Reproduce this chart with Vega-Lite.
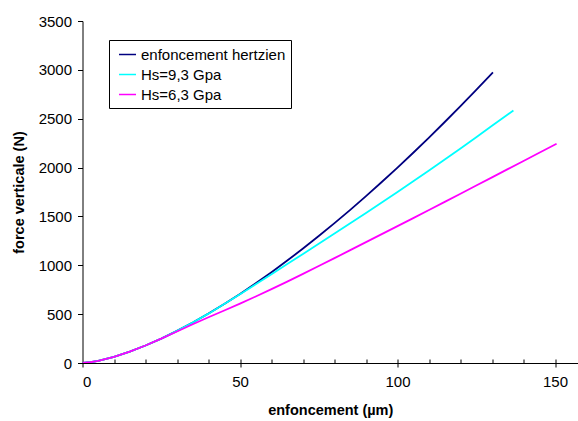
{
  "$schema": "https://vega.github.io/schema/vega-lite/v6.json",
  "width": 495.5,
  "height": 342,
  "autosize": "none",
  "padding": {"left": 82.5, "top": 21, "right": 0, "bottom": 58},
  "background": "white",
  "config": {
    "view": {"stroke": null},
    "font": "Liberation Sans",
    "axis": {
      "grid": false,
      "domainColor": "#000000",
      "tickColor": "#000000",
      "labelColor": "#000000",
      "titleColor": "#000000",
      "labelFontSize": 15,
      "titleFontSize": 14.5,
      "titleFontWeight": "bold",
      "labelFont": "Liberation Sans",
      "titleFont": "Liberation Sans"
    },
    "legend": {
      "orient": "none",
      "legendX": 26.5,
      "legendY": 19,
      "strokeColor": "#000000",
      "fillColor": "#ffffff",
      "padding": 5,
      "symbolOffset": 4,
      "symbolType": "stroke",
      "symbolSize": 289,
      "symbolStrokeWidth": 1.5,
      "labelFontSize": 15,
      "labelFont": "Liberation Sans",
      "labelColor": "#000000",
      "labelOffset": 4,
      "rowPadding": 2
    }
  },
  "data": {
    "values": [
      {"s": "enfoncement hertzien", "x": 0, "y": 0},
      {"s": "enfoncement hertzien", "x": 2.5, "y": 7.9},
      {"s": "enfoncement hertzien", "x": 5, "y": 22.4},
      {"s": "enfoncement hertzien", "x": 10, "y": 63.2},
      {"s": "enfoncement hertzien", "x": 15, "y": 116.2},
      {"s": "enfoncement hertzien", "x": 20, "y": 178.9},
      {"s": "enfoncement hertzien", "x": 25, "y": 250},
      {"s": "enfoncement hertzien", "x": 30, "y": 328.6},
      {"s": "enfoncement hertzien", "x": 35, "y": 414.1},
      {"s": "enfoncement hertzien", "x": 40, "y": 506},
      {"s": "enfoncement hertzien", "x": 45, "y": 603.7},
      {"s": "enfoncement hertzien", "x": 50, "y": 707.1},
      {"s": "enfoncement hertzien", "x": 55, "y": 815.8},
      {"s": "enfoncement hertzien", "x": 60, "y": 929.5},
      {"s": "enfoncement hertzien", "x": 65, "y": 1048.1},
      {"s": "enfoncement hertzien", "x": 70, "y": 1171.3},
      {"s": "enfoncement hertzien", "x": 75, "y": 1299},
      {"s": "enfoncement hertzien", "x": 80, "y": 1431},
      {"s": "enfoncement hertzien", "x": 85, "y": 1567.3},
      {"s": "enfoncement hertzien", "x": 90, "y": 1707.6},
      {"s": "enfoncement hertzien", "x": 95, "y": 1851.9},
      {"s": "enfoncement hertzien", "x": 100, "y": 2000},
      {"s": "enfoncement hertzien", "x": 105, "y": 2151.9},
      {"s": "enfoncement hertzien", "x": 110, "y": 2307.4},
      {"s": "enfoncement hertzien", "x": 115, "y": 2466.5},
      {"s": "enfoncement hertzien", "x": 120, "y": 2629.1},
      {"s": "enfoncement hertzien", "x": 125, "y": 2795.1},
      {"s": "enfoncement hertzien", "x": 130, "y": 2964.4},
      {"s": "enfoncement hertzien", "x": 130.3, "y": 2974},
      {"s": "Hs=9,3 Gpa", "x": 0, "y": 0},
      {"s": "Hs=9,3 Gpa", "x": 2.5, "y": 7.9},
      {"s": "Hs=9,3 Gpa", "x": 5, "y": 22.4},
      {"s": "Hs=9,3 Gpa", "x": 10, "y": 63.2},
      {"s": "Hs=9,3 Gpa", "x": 15, "y": 116.2},
      {"s": "Hs=9,3 Gpa", "x": 20, "y": 178.9},
      {"s": "Hs=9,3 Gpa", "x": 25, "y": 250},
      {"s": "Hs=9,3 Gpa", "x": 30, "y": 328.6},
      {"s": "Hs=9,3 Gpa", "x": 35, "y": 414},
      {"s": "Hs=9,3 Gpa", "x": 40, "y": 505},
      {"s": "Hs=9,3 Gpa", "x": 45, "y": 603},
      {"s": "Hs=9,3 Gpa", "x": 50, "y": 704},
      {"s": "Hs=9,3 Gpa", "x": 55, "y": 806},
      {"s": "Hs=9,3 Gpa", "x": 60, "y": 909},
      {"s": "Hs=9,3 Gpa", "x": 65, "y": 1012},
      {"s": "Hs=9,3 Gpa", "x": 70, "y": 1116},
      {"s": "Hs=9,3 Gpa", "x": 75, "y": 1220},
      {"s": "Hs=9,3 Gpa", "x": 80, "y": 1325},
      {"s": "Hs=9,3 Gpa", "x": 85, "y": 1430},
      {"s": "Hs=9,3 Gpa", "x": 90, "y": 1536},
      {"s": "Hs=9,3 Gpa", "x": 95, "y": 1643},
      {"s": "Hs=9,3 Gpa", "x": 100, "y": 1751},
      {"s": "Hs=9,3 Gpa", "x": 105, "y": 1860},
      {"s": "Hs=9,3 Gpa", "x": 110, "y": 1970},
      {"s": "Hs=9,3 Gpa", "x": 115, "y": 2082},
      {"s": "Hs=9,3 Gpa", "x": 120, "y": 2196},
      {"s": "Hs=9,3 Gpa", "x": 125, "y": 2311},
      {"s": "Hs=9,3 Gpa", "x": 130, "y": 2427},
      {"s": "Hs=9,3 Gpa", "x": 135, "y": 2543},
      {"s": "Hs=9,3 Gpa", "x": 136.8, "y": 2585},
      {"s": "Hs=6,3 Gpa", "x": 0, "y": 0},
      {"s": "Hs=6,3 Gpa", "x": 2.5, "y": 7.9},
      {"s": "Hs=6,3 Gpa", "x": 5, "y": 22.4},
      {"s": "Hs=6,3 Gpa", "x": 10, "y": 63.2},
      {"s": "Hs=6,3 Gpa", "x": 15, "y": 116.2},
      {"s": "Hs=6,3 Gpa", "x": 20, "y": 178.9},
      {"s": "Hs=6,3 Gpa", "x": 25, "y": 249},
      {"s": "Hs=6,3 Gpa", "x": 30, "y": 322},
      {"s": "Hs=6,3 Gpa", "x": 35, "y": 396},
      {"s": "Hs=6,3 Gpa", "x": 40, "y": 468},
      {"s": "Hs=6,3 Gpa", "x": 45, "y": 537},
      {"s": "Hs=6,3 Gpa", "x": 50, "y": 608},
      {"s": "Hs=6,3 Gpa", "x": 55, "y": 681},
      {"s": "Hs=6,3 Gpa", "x": 60, "y": 756},
      {"s": "Hs=6,3 Gpa", "x": 65, "y": 833},
      {"s": "Hs=6,3 Gpa", "x": 70, "y": 912},
      {"s": "Hs=6,3 Gpa", "x": 75, "y": 992},
      {"s": "Hs=6,3 Gpa", "x": 80, "y": 1073},
      {"s": "Hs=6,3 Gpa", "x": 85, "y": 1155},
      {"s": "Hs=6,3 Gpa", "x": 90, "y": 1237},
      {"s": "Hs=6,3 Gpa", "x": 95, "y": 1319},
      {"s": "Hs=6,3 Gpa", "x": 100, "y": 1401},
      {"s": "Hs=6,3 Gpa", "x": 105, "y": 1483},
      {"s": "Hs=6,3 Gpa", "x": 110, "y": 1566},
      {"s": "Hs=6,3 Gpa", "x": 115, "y": 1649},
      {"s": "Hs=6,3 Gpa", "x": 120, "y": 1732},
      {"s": "Hs=6,3 Gpa", "x": 125, "y": 1816},
      {"s": "Hs=6,3 Gpa", "x": 130, "y": 1900},
      {"s": "Hs=6,3 Gpa", "x": 135, "y": 1984},
      {"s": "Hs=6,3 Gpa", "x": 140, "y": 2068},
      {"s": "Hs=6,3 Gpa", "x": 145, "y": 2152},
      {"s": "Hs=6,3 Gpa", "x": 150.5, "y": 2244}
    ]
  },
  "resolve": {"scale": {"x": "shared"}, "axis": {"x": "independent"}},
  "layer": [
    {
      "mark": {"type": "line", "opacity": 0},
      "encoding": {
        "x": {
          "field": "x",
          "type": "quantitative",
          "scale": {"domain": [0, 157.3], "nice": false, "zero": false},
          "axis": {
            "orient": "bottom",
            "values": [10, 20, 30, 40, 50, 60, 70, 80, 90, 100, 110, 120, 130, 140, 150],
            "labels": false,
            "domain": false,
            "tickSize": -4,
            "title": null
          }
        },
        "y": {"field": "y", "type": "quantitative"},
        "detail": {"field": "s"}
      }
    },
    {
      "mark": {"type": "line", "strokeWidth": 1.8, "clip": true},
      "encoding": {
        "x": {
          "field": "x",
          "type": "quantitative",
          "scale": {"domain": [0, 157.3], "nice": false, "zero": false},
          "axis": {
            "orient": "bottom",
            "values": [0, 50, 100, 150],
            "tickSize": 4,
            "labelPadding": 7,
            "title": "enfoncement (µm)",
            "titlePadding": 14
          }
        },
        "y": {
          "field": "y",
          "type": "quantitative",
          "scale": {"domain": [0, 3500], "nice": false},
          "axis": {
            "values": [0, 500, 1000, 1500, 2000, 2500, 3000, 3500],
            "format": "d",
            "tickSize": 5,
            "labelPadding": 6,
            "title": "force verticale (N)",
            "titlePadding": 12
          }
        },
        "color": {
          "field": "s",
          "type": "nominal",
          "sort": null,
          "scale": {
            "domain": ["enfoncement hertzien", "Hs=9,3 Gpa", "Hs=6,3 Gpa"],
            "range": ["#000080", "#00FFFF", "#FF00FF"]
          },
          "legend": {"title": null}
        }
      }
    }
  ]
}
